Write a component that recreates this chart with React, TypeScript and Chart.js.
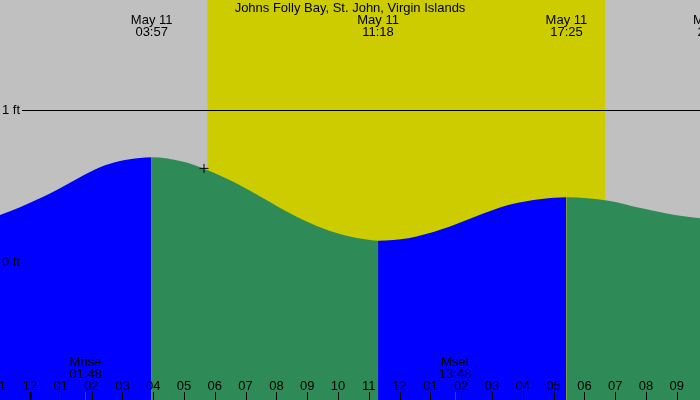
import React, { useEffect, useRef } from "react";
import { Chart, registerables } from "chart.js";

Chart.register(...registerables);

// ---- data ----
const titleText = "Johns Folly Bay, St. John, Virgin Islands";

// tide curve samples: hour of May 11 (0 = midnight), height in feet
const tideHours = [
  -0.974, -0.325, 0.325, 0.974, 1.623, 2.273, 2.922, 3.571, 3.95,
  4.977, 5.627, 6.601, 7.575, 8.442, 9.308, 10.172, 11.039, 11.3,
  12.282, 13.367, 14.448, 15.529, 16.614, 17.417,
  18.776, 19.86, 20.942, 21.753,
];
const tideFeet = [
  0.309, 0.36, 0.419, 0.485, 0.557, 0.623, 0.664, 0.684, 0.689,
  0.66, 0.616, 0.528, 0.419, 0.32, 0.237, 0.178, 0.145, 0.14,
  0.156, 0.215, 0.298, 0.375, 0.414, 0.426,
  0.403, 0.353, 0.309, 0.288,
];

// extremes (high/low) with their labels
const extremeHours = [3.95, 11.3, 17.417, 22.2];
const extremeDates = ["May 11", "May 11", "May 11", "May 11"];
const extremeTimes = ["03:57", "11:18", "17:25", "22:12"];

// sun and moon
const sunriseHour = 5.757;
const sunsetHour = 18.669;
const moonHours = [1.8, 13.8];
const moonNames = ["Mrise", "Mset"];
const moonTimes = ["01:48", "13:48"];

// axis
const hourTicks = [-1, 0, 1, 2, 3, 4, 5, 6, 7, 8, 9, 10, 11, 12, 13, 14, 15, 16, 17, 18, 19, 20, 21];
const feetLabelValues = [0, 1];
const feetLabels = ["0 ft", "1 ft"];
const feetLineValues = [1];

// current time marker
const nowHour = 5.65;
const nowFeet = 0.616;

const xMin = -0.974;
const xMax = 21.753;
const yMin = -0.908;
const yMax = 1.724;

const FONT = '13px "Liberation Sans", Arial, sans-serif';
const BLUE = "#0000ff";
const GREEN = "#2e8b57";
const NIGHT = "#c0c0c0";
const DAY = "#cccc00";

function hourLabel(h: number): string {
  const v = ((h % 12) + 12) % 12;
  const n = v === 0 ? 12 : v;
  return n < 10 ? "0" + n : String(n);
}

const decorPlugin = {
  id: "tideDecor",
  beforeDatasetsDraw(chart: any) {
    const { ctx, chartArea, scales } = chart;
    const xs = scales.x;
    const ys = scales.y;
    ctx.save();
    const sr = xs.getPixelForValue(sunriseHour);
    const ss = xs.getPixelForValue(sunsetHour);
    ctx.fillStyle = NIGHT;
    ctx.fillRect(chartArea.left, chartArea.top, chartArea.right - chartArea.left, chartArea.bottom - chartArea.top);
    ctx.fillStyle = DAY;
    ctx.fillRect(sr, chartArea.top, ss - sr, chartArea.bottom - chartArea.top);
    ctx.strokeStyle = "#000";
    ctx.lineWidth = 1;
    feetLineValues.forEach((f) => {
      const y = Math.round(ys.getPixelForValue(f)) + 0.5;
      ctx.beginPath();
      ctx.moveTo(22, y);
      ctx.lineTo(chartArea.right, y);
      ctx.stroke();
    });
    ctx.restore();
  },
  afterDatasetsDraw(chart: any) {
    const { ctx, scales } = chart;
    const xs = scales.x;
    const ys = scales.y;
    ctx.save();
    ctx.font = FONT;
    ctx.fillStyle = "#000";
    ctx.textBaseline = "middle";
    ctx.textAlign = "center";
    ctx.fillText(titleText, 350, 8);
    extremeHours.forEach((h, i) => {
      const x = xs.getPixelForValue(h);
      ctx.fillText(extremeDates[i], x, 20);
      ctx.fillText(extremeTimes[i], x, 32);
    });
    ctx.textAlign = "left";
    feetLabelValues.forEach((f, i) => {
      ctx.fillText(feetLabels[i], 2, ys.getPixelForValue(f));
    });
    ctx.textAlign = "center";
    moonHours.forEach((h, i) => {
      const x = xs.getPixelForValue(h);
      ctx.fillText(moonNames[i], x, 362);
      ctx.fillText(moonTimes[i], x, 374);
    });
    hourTicks.forEach((h) => {
      const x = xs.getPixelForValue(h);
      ctx.fillText(hourLabel(h), x, 386);
      if (h % 24 === 0) {
        ctx.fillRect(Math.round(x) - 1, 392, 3, 8);
      } else {
        ctx.fillRect(Math.round(x), 392, 1, 8);
      }
    });
    ctx.fillStyle = "#ff0000";
    moonHours.forEach((h) => {
      const x = xs.getPixelForValue(h);
      ctx.fillRect(Math.round(x), 392, 1, 8);
    });
    ctx.restore();
  },
};

export default function App() {
  const ref = useRef<HTMLCanvasElement | null>(null);
  useEffect(() => {
    document.body.style.margin = "0";
    const canvas = ref.current;
    if (!canvas) return;
    const tideData = tideHours.map((h, i) => ({ x: h, y: tideFeet[i] }));
    const datasets: any[] = [
      {
        type: "scatter",
        data: [{ x: nowHour, y: nowFeet }],
        pointStyle: "cross",
        pointRadius: 4.5,
        borderColor: "#000",
        borderWidth: 1,
        backgroundColor: "#000",
        showLine: false,
        order: -1,
      },
      {
        type: "line",
        data: tideData,
        borderWidth: 0,
        borderColor: "rgba(0,0,0,0)",
        backgroundColor: BLUE,
        fill: "start",
        pointRadius: 0,
        cubicInterpolationMode: "monotone",
        segment: {
          backgroundColor: (c: any) => (c.p1.parsed.y > c.p0.parsed.y ? BLUE : GREEN),
        },
        order: 1,
      },
    ];
    const chart = new Chart(canvas, {
      type: "line",
      data: { datasets },
      options: {
        animation: false,
        responsive: false,
        devicePixelRatio: 1,
        layout: { padding: 0, autoPadding: false },
        events: [],
        plugins: { legend: { display: false }, tooltip: { enabled: false }, title: { display: false } },
        scales: {
          x: { type: "linear", min: xMin, max: xMax, display: false },
          y: { type: "linear", min: yMin, max: yMax, display: false },
        },
      },
      plugins: [decorPlugin],
    } as any);
    return () => chart.destroy();
  }, []);
  return (
    <div style={{ position: "fixed", left: 0, top: 0, width: 700, height: 400 }}>
      <canvas ref={ref} width={700} height={400} style={{ display: "block", width: 700, height: 400 }} />
    </div>
  );
}
